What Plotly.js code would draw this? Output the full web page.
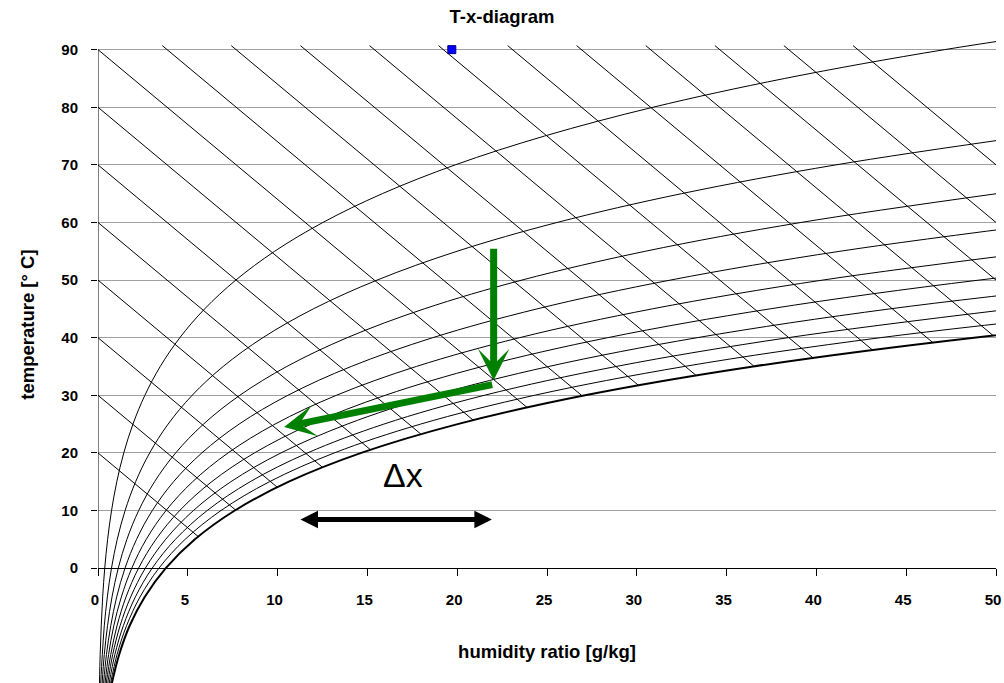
<!DOCTYPE html>
<html>
<head>
<meta charset="utf-8">
<script src="https://cdn.plot.ly/plotly-3.0.1.min.js"></script>
<style>html,body{margin:0;padding:0;background:#fff;}#chart{width:1004px;height:683px;}</style>
</head>
<body>
<div id="chart"></div>
<script>
// ---------- data ----------
// temperature steps (°C) shared by the relative-humidity curves
const tempSteps = [-20,-15,-10,-5,0,5,10,15,20,25,30,35,40,45,50,55,60,65,70,75,80,85,90,95];

// humidity ratio (g/kg) of each relative-humidity curve at those temperatures
const rh10  = [0.08,0.12,0.18,0.26,0.375,0.536,0.754,1.047,1.435,1.946,2.610,3.465,4.556,5.938,7.675,9.836,12.52,15.83,19.89,24.86,30.90,38.24,47.14,57.94];
const rh20  = [0.15,0.24,0.35,0.52,0.751,1.072,1.509,2.096,2.877,3.904,5.241,6.969,9.179,11.989,15.54,19.99,25.56,32.49,41.09,51.79];
const rh30  = [0.23,0.35,0.53,0.78,1.128,1.609,2.266,3.150,4.326,5.874,7.896,10.512,13.872,18.16,23.60,30.47,39.14,50.04];
const rh40  = [0.31,0.47,0.71,1.04,1.505,2.148,3.025,4.207,5.781,7.857,10.572,14.095,18.635,24.449,31.87,41.31,53.30];
const rh50  = [0.39,0.59,0.88,1.30,1.882,2.687,3.786,5.268,7.243,9.853,13.272,17.720,23.469,30.86,40.35,52.50];
const rh60  = [0.46,0.71,1.06,1.56,2.259,3.227,4.549,6.331,8.712,11.861,15.994,21.385,28.376,37.41,49.06,64.09];
const rh70  = [0.54,0.82,1.23,1.82,2.637,3.768,5.313,7.399,10.187,13.882,18.740,25.093,33.36,44.09,58.00];
const rh80  = [0.62,0.94,1.41,2.08,3.016,4.311,6.080,8.471,11.670,15.916,21.510,28.844,38.42,50.90];
const rh90  = [0.70,1.06,1.59,2.34,3.395,4.853,6.848,9.546,13.159,17.962,24.303,32.64,43.56,57.85];
const rh100 = [0.77,1.18,1.76,2.60,3.775,5.397,7.618,10.625,14.657,20.023,27.122,36.48,48.78,64.95];

// enthalpy lines: start and end points (g/kg, °C)
const hStartX = [0,0,0,0,0,0,0,0,3.58,7.42,11.27,15.12,18.96,22.81,26.65,30.5,34.35,38.19,42.04];
const hStartT = [20,30,40,50,60,70,80,90,90.7,90.7,90.7,90.7,90.7,90.7,90.7,90.7,90.7,90.7,90.7];
const hEndX   = [5.58,7.66,9.98,12.5,15.17,17.98,20.89,23.89,26.96,30.09,33.3,36.53,39.81,43.12,46.48,49.85,50,50,50];
const hEndT   = [5.48,10.09,14.05,17.5,20.55,23.26,25.69,27.89,29.9,31.74,33.45,35.03,36.5,37.87,39.16,40.35,50,60,70];

// marked point
const pointX = [19.7];
const pointT = [90];

// process arrows (tail -> head)
const coolTail = [22.03, 55.7], coolHead = [22.03, 32.6];
const dehumTail = [22.03, 31.9], dehumHead = [10.36, 24.5];
const deltaStart = [11.19, 8.45], deltaEnd = [21.93, 8.45];
const deltaLabelPos = [17.0, 16.1];

// axis ticks
const xTicks = [0,5,10,15,20,25,30,35,40,45,50];
const yTicks = [0,10,20,30,40,50,60,70,80,90];

// ---------- build chart ----------
const yRange = [-19.94, 91.5];
const xRange = [0, 50];
const FONT = '"Liberation Sans", Arial, sans-serif';

const rhCurves = [rh10, rh20, rh30, rh40, rh50, rh60, rh70, rh80, rh90, rh100];
const traces = rhCurves.map((xs, i) => ({
  type: 'scatter', mode: 'lines',
  x: xs, y: tempSteps.slice(0, xs.length),
  line: {color: '#000', width: i === rhCurves.length - 1 ? 2 : 1, shape: 'spline', smoothing: 1},
  hoverinfo: 'skip', showlegend: false
}));

const hx = [], hy = [];
for (let i = 0; i < hStartX.length; i++) {
  hx.push(hStartX[i], hEndX[i], null);
  hy.push(hStartT[i], hEndT[i], null);
}
traces.push({type: 'scatter', mode: 'lines', x: hx, y: hy,
  line: {color: '#000', width: 1}, hoverinfo: 'skip', showlegend: false});

traces.push({type: 'scatter', mode: 'markers', x: pointX, y: pointT,
  marker: {symbol: 'square', size: 8, color: '#0000ff', line: {color: '#000080', width: 1}},
  hoverinfo: 'skip', showlegend: false, cliponaxis: false});

const green = '#008000';
const annotations = [
  {x: coolHead[0], y: coolHead[1], ax: coolTail[0], ay: coolTail[1], xref: 'x', yref: 'y', axref: 'x', ayref: 'y',
   text: '', showarrow: true, arrowhead: 3, arrowsize: 0.75, arrowwidth: 7, arrowcolor: green},
  {x: dehumHead[0], y: dehumHead[1], ax: dehumTail[0], ay: dehumTail[1], xref: 'x', yref: 'y', axref: 'x', ayref: 'y',
   text: '', showarrow: true, arrowhead: 3, arrowsize: 0.75, arrowwidth: 7, arrowcolor: green},
  {x: deltaEnd[0], y: deltaEnd[1], ax: deltaStart[0], ay: deltaStart[1], xref: 'x', yref: 'y', axref: 'x', ayref: 'y',
   text: '', showarrow: true, arrowside: 'end+start', arrowhead: 2, startarrowhead: 2,
   arrowsize: 0.7, startarrowsize: 0.7, arrowwidth: 5, arrowcolor: '#000'},
  {x: deltaLabelPos[0], y: deltaLabelPos[1], xref: 'x', yref: 'y', text: 'Δx', showarrow: false,
   font: {family: FONT, size: 34, color: '#000'}},
  {x: -0.0794, y: 0.5576, xref: 'paper', yref: 'paper', text: 'temperature [° C]', textangle: -90,
   showarrow: false, xanchor: 'center', yanchor: 'middle',
   font: {family: FONT, size: 18.5, color: '#000', weight: 'bold'}}
];

const layout = {
  width: 1004, height: 683,
  margin: {l: 98, r: 8, t: 41, b: 0, pad: 0},
  paper_bgcolor: '#fff', plot_bgcolor: '#fff',
  showlegend: false,
  font: {family: FONT, color: '#000'},
  title: {text: 'T-x-diagram', xref: 'container', x: 0.5, xanchor: 'center',
          yref: 'container', y: 1 - 16.7 / 683, yanchor: 'middle',
          font: {family: FONT, size: 18.5, color: '#000', weight: 'bold'}},
  xaxis: {
    range: xRange, anchor: 'free', position: -yRange[0] / (yRange[1] - yRange[0]),
    tickmode: 'array', tickvals: xTicks, ticktext: xTicks.map(String),
    showgrid: false, zeroline: false, showline: true, linecolor: '#000', linewidth: 1,
    ticks: 'outside', ticklen: 7, tickcolor: '#000', tickwidth: 1, ticklabelstandoff: 11,
    ticklabelshift: -3, ticklabeloverflow: 'allow',
    tickfont: {family: FONT, size: 15, color: '#000', weight: 'bold'},
    title: {text: 'humidity ratio [g/kg]', standoff: 37,
            font: {family: FONT, size: 18.5, color: '#000', weight: 'bold'}},
    automargin: false, fixedrange: true
  },
  yaxis: {
    range: yRange,
    tickmode: 'array', tickvals: yTicks, ticktext: yTicks.map(String),
    showgrid: true, gridcolor: '#a0a0a0', gridwidth: 1, zeroline: false, showline: false,
    ticks: 'outside', ticklen: 6, tickcolor: '#000', tickwidth: 1, ticklabelstandoff: 10,
    tickfont: {family: FONT, size: 15, color: '#000', weight: 'bold'},
    automargin: false, fixedrange: true
  },
  shapes: [
    {type: 'line', xref: 'x', yref: 'y', x0: 0, x1: 0, y0: 0, y1: 90,
     line: {color: '#000', width: 1}, layer: 'above'}
  ],
  annotations: annotations
};

Plotly.newPlot('chart', traces, layout, {staticPlot: true, displayModeBar: false});
</script>
</body>
</html>
